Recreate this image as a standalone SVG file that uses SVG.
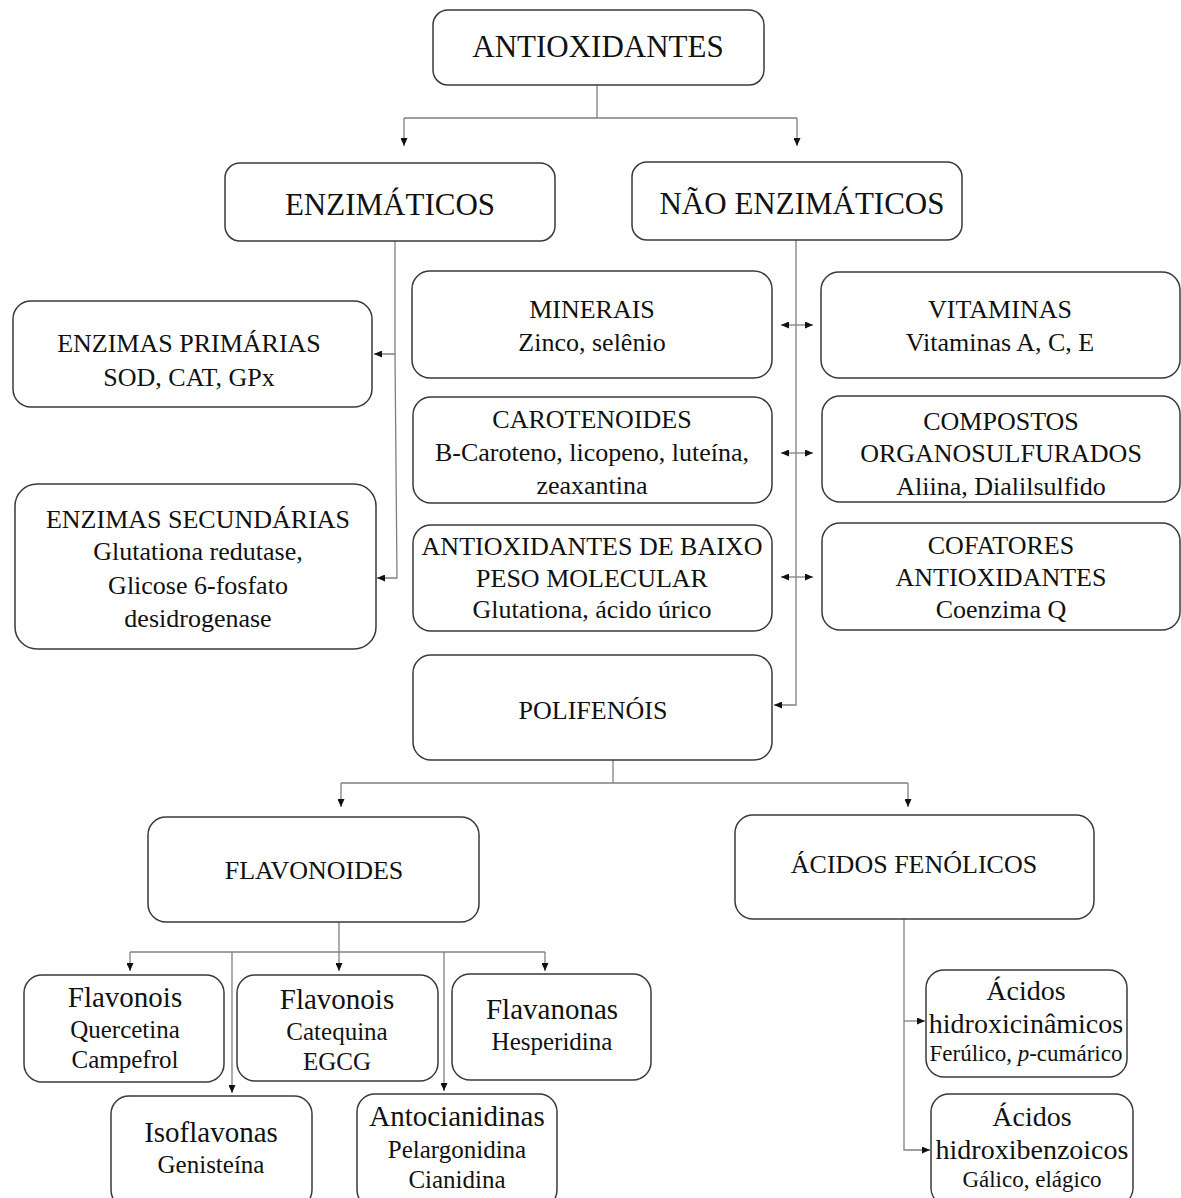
<svg xmlns="http://www.w3.org/2000/svg" width="1181" height="1198" viewBox="0 0 1181 1198">
<style>
.box{fill:#fff;stroke:#3a3a3a;stroke-width:1.5}
.t{font-family:"Liberation Serif","Times New Roman",serif;fill:#111;text-anchor:middle}
.h{font-size:31px}
.m{font-size:26px}
.b{font-size:29px}
.s{font-size:25px}
.a{font-size:28px}
.as{font-size:23px}
.c{fill:none;stroke:#808080;stroke-width:1.3}
</style>
<defs>
<marker id="ah" viewBox="0 0 8 7" refX="8" refY="3.5" markerWidth="8" markerHeight="7" markerUnits="userSpaceOnUse" orient="auto-start-reverse">
<path d="M0,0 L8,3.5 L0,7 z" fill="#111"/>
</marker>
</defs>
<rect width="1181" height="1198" fill="#fff"/>
<g id="connectors">
<path class="c" d="M597,85 V118 M404,118 H797"/>
<path class="c" d="M404,118 V146" marker-end="url(#ah)"/>
<path class="c" d="M797,118 V146" marker-end="url(#ah)"/>
<path class="c" d="M395,241 V354 H374" marker-end="url(#ah)"/>
<path class="c" d="M395,354 L397,578 H377" marker-end="url(#ah)"/>
<path class="c" d="M796,240 V705 H774" marker-end="url(#ah)"/>
<path class="c" d="M781,325 H813" marker-start="url(#ah)" marker-end="url(#ah)"/>
<path class="c" d="M781,453 H813" marker-start="url(#ah)" marker-end="url(#ah)"/>
<path class="c" d="M781,577 H813" marker-start="url(#ah)" marker-end="url(#ah)"/>
<path class="c" d="M613,760 V783 M341,783 H908"/>
<path class="c" d="M341,783 V807" marker-end="url(#ah)"/>
<path class="c" d="M908,783 V807" marker-end="url(#ah)"/>
<path class="c" d="M339,922 V952 M130,952 H545"/>
<path class="c" d="M130,952 V971" marker-end="url(#ah)"/>
<path class="c" d="M339,952 V971" marker-end="url(#ah)"/>
<path class="c" d="M545,952 V971" marker-end="url(#ah)"/>
<path class="c" d="M232,952 V1093" marker-end="url(#ah)"/>
<path class="c" d="M444,952 V1091" marker-end="url(#ah)"/>
<path class="c" d="M904,919 V1150 H930" marker-end="url(#ah)"/>
<path class="c" d="M904,1021 H925" marker-end="url(#ah)"/>
</g>
<g id="antioxidantes"><rect class="box" x="433" y="10" width="331" height="75" rx="15"/><text class="t h" x="598" y="57">ANTIOXIDANTES</text></g>
<g id="enzimaticos"><rect class="box" x="225" y="163" width="330" height="78" rx="15"/><text class="t h" x="390" y="215">ENZIMÁTICOS</text></g>
<g id="nao-enzimaticos"><rect class="box" x="632" y="162" width="330" height="78" rx="15"/><text class="t h" x="802" y="214">NÃO ENZIMÁTICOS</text></g>
<g id="enzimas-primarias"><rect class="box" x="13" y="301" width="359" height="106" rx="18"/><text class="t m" x="189" y="352">ENZIMAS PRIMÁRIAS</text><text class="t m" x="189" y="386">SOD, CAT, GPx</text></g>
<g id="enzimas-secundarias"><rect class="box" x="15" y="484" width="361" height="165" rx="22"/><text class="t m" x="198" y="528">ENZIMAS SECUNDÁRIAS</text><text class="t m" x="198" y="560">Glutationa redutase,</text><text class="t m" x="198" y="594">Glicose 6-fosfato</text><text class="t m" x="198" y="627">desidrogenase</text></g>
<g id="minerais"><rect class="box" x="412" y="271" width="360" height="107" rx="18"/><text class="t m" x="592" y="318">MINERAIS</text><text class="t m" x="592" y="351">Zinco, selênio</text></g>
<g id="carotenoides"><rect class="box" x="413" y="397" width="359" height="106" rx="18"/><text class="t m" x="592" y="428">CAROTENOIDES</text><text class="t m" x="592" y="461">B-Caroteno, licopeno, luteína,</text><text class="t m" x="592" y="494">zeaxantina</text></g>
<g id="baixo-peso"><rect class="box" x="413" y="525" width="359" height="106" rx="18"/><text class="t m" x="592" y="555">ANTIOXIDANTES DE BAIXO</text><text class="t m" x="592" y="587">PESO MOLECULAR</text><text class="t m" x="592" y="618">Glutationa, ácido úrico</text></g>
<g id="vitaminas"><rect class="box" x="821" y="272" width="359" height="106" rx="18"/><text class="t m" x="1000" y="318">VITAMINAS</text><text class="t m" x="1000" y="351">Vitaminas A, C, E</text></g>
<g id="organosulfurados"><rect class="box" x="822" y="396" width="358" height="106" rx="18"/><text class="t m" x="1001" y="430">COMPOSTOS</text><text class="t m" x="1001" y="462">ORGANOSULFURADOS</text><text class="t m" x="1001" y="495">Aliina, Dialilsulfido</text></g>
<g id="cofatores"><rect class="box" x="822" y="523" width="358" height="107" rx="18"/><text class="t m" x="1001" y="554">COFATORES</text><text class="t m" x="1001" y="586">ANTIOXIDANTES</text><text class="t m" x="1001" y="618">Coenzima Q</text></g>
<g id="polifenois"><rect class="box" x="413" y="655" width="359" height="105" rx="18"/><text class="t m" x="593" y="719">POLIFENÓIS</text></g>
<g id="flavonoides"><rect class="box" x="148" y="817" width="331" height="105" rx="18"/><text class="t m" x="314" y="879">FLAVONOIDES</text></g>
<g id="acidos-fenolicos"><rect class="box" x="735" y="815" width="359" height="104" rx="18"/><text class="t m" x="914" y="873">ÁCIDOS FENÓLICOS</text></g>
<g id="flavonois-1"><rect class="box" x="24" y="975" width="200" height="107" rx="18"/><text class="t b" x="125" y="1007">Flavonois</text><text class="t s" x="125" y="1038">Quercetina</text><text class="t s" x="125" y="1068">Campefrol</text></g>
<g id="flavonois-2"><rect class="box" x="237" y="975" width="201" height="106" rx="18"/><text class="t b" x="337" y="1009">Flavonois</text><text class="t s" x="337" y="1040">Catequina</text><text class="t s" x="337" y="1070">EGCG</text></g>
<g id="flavanonas"><rect class="box" x="452" y="974" width="199" height="106" rx="18"/><text class="t b" x="552" y="1019">Flavanonas</text><text class="t s" x="552" y="1050">Hesperidina</text></g>
<g id="isoflavonas"><rect class="box" x="111" y="1096" width="201" height="112" rx="18"/><text class="t b" x="211" y="1142">Isoflavonas</text><text class="t s" x="211" y="1173">Genisteína</text></g>
<g id="antocianidinas"><rect class="box" x="357" y="1094" width="200" height="114" rx="18"/><text class="t b" x="457" y="1126">Antocianidinas</text><text class="t s" x="457" y="1158">Pelargonidina</text><text class="t s" x="457" y="1188">Cianidina</text></g>
<g id="hidroxicinamicos"><rect class="box" x="926" y="970" width="201" height="107" rx="18"/><text class="t a" x="1026" y="1000">Ácidos</text><text class="t a" x="1026" y="1033">hidroxicinâmicos</text><text class="t as" x="1026" y="1061">Ferúlico, <tspan font-style="italic">p</tspan>-cumárico</text></g>
<g id="hidroxibenzoicos"><rect class="box" x="931" y="1094" width="202" height="112" rx="18"/><text class="t a" x="1032" y="1126">Ácidos</text><text class="t a" x="1032" y="1159">hidroxibenzoicos</text><text class="t as" x="1032" y="1187">Gálico, elágico</text></g>
</svg>
